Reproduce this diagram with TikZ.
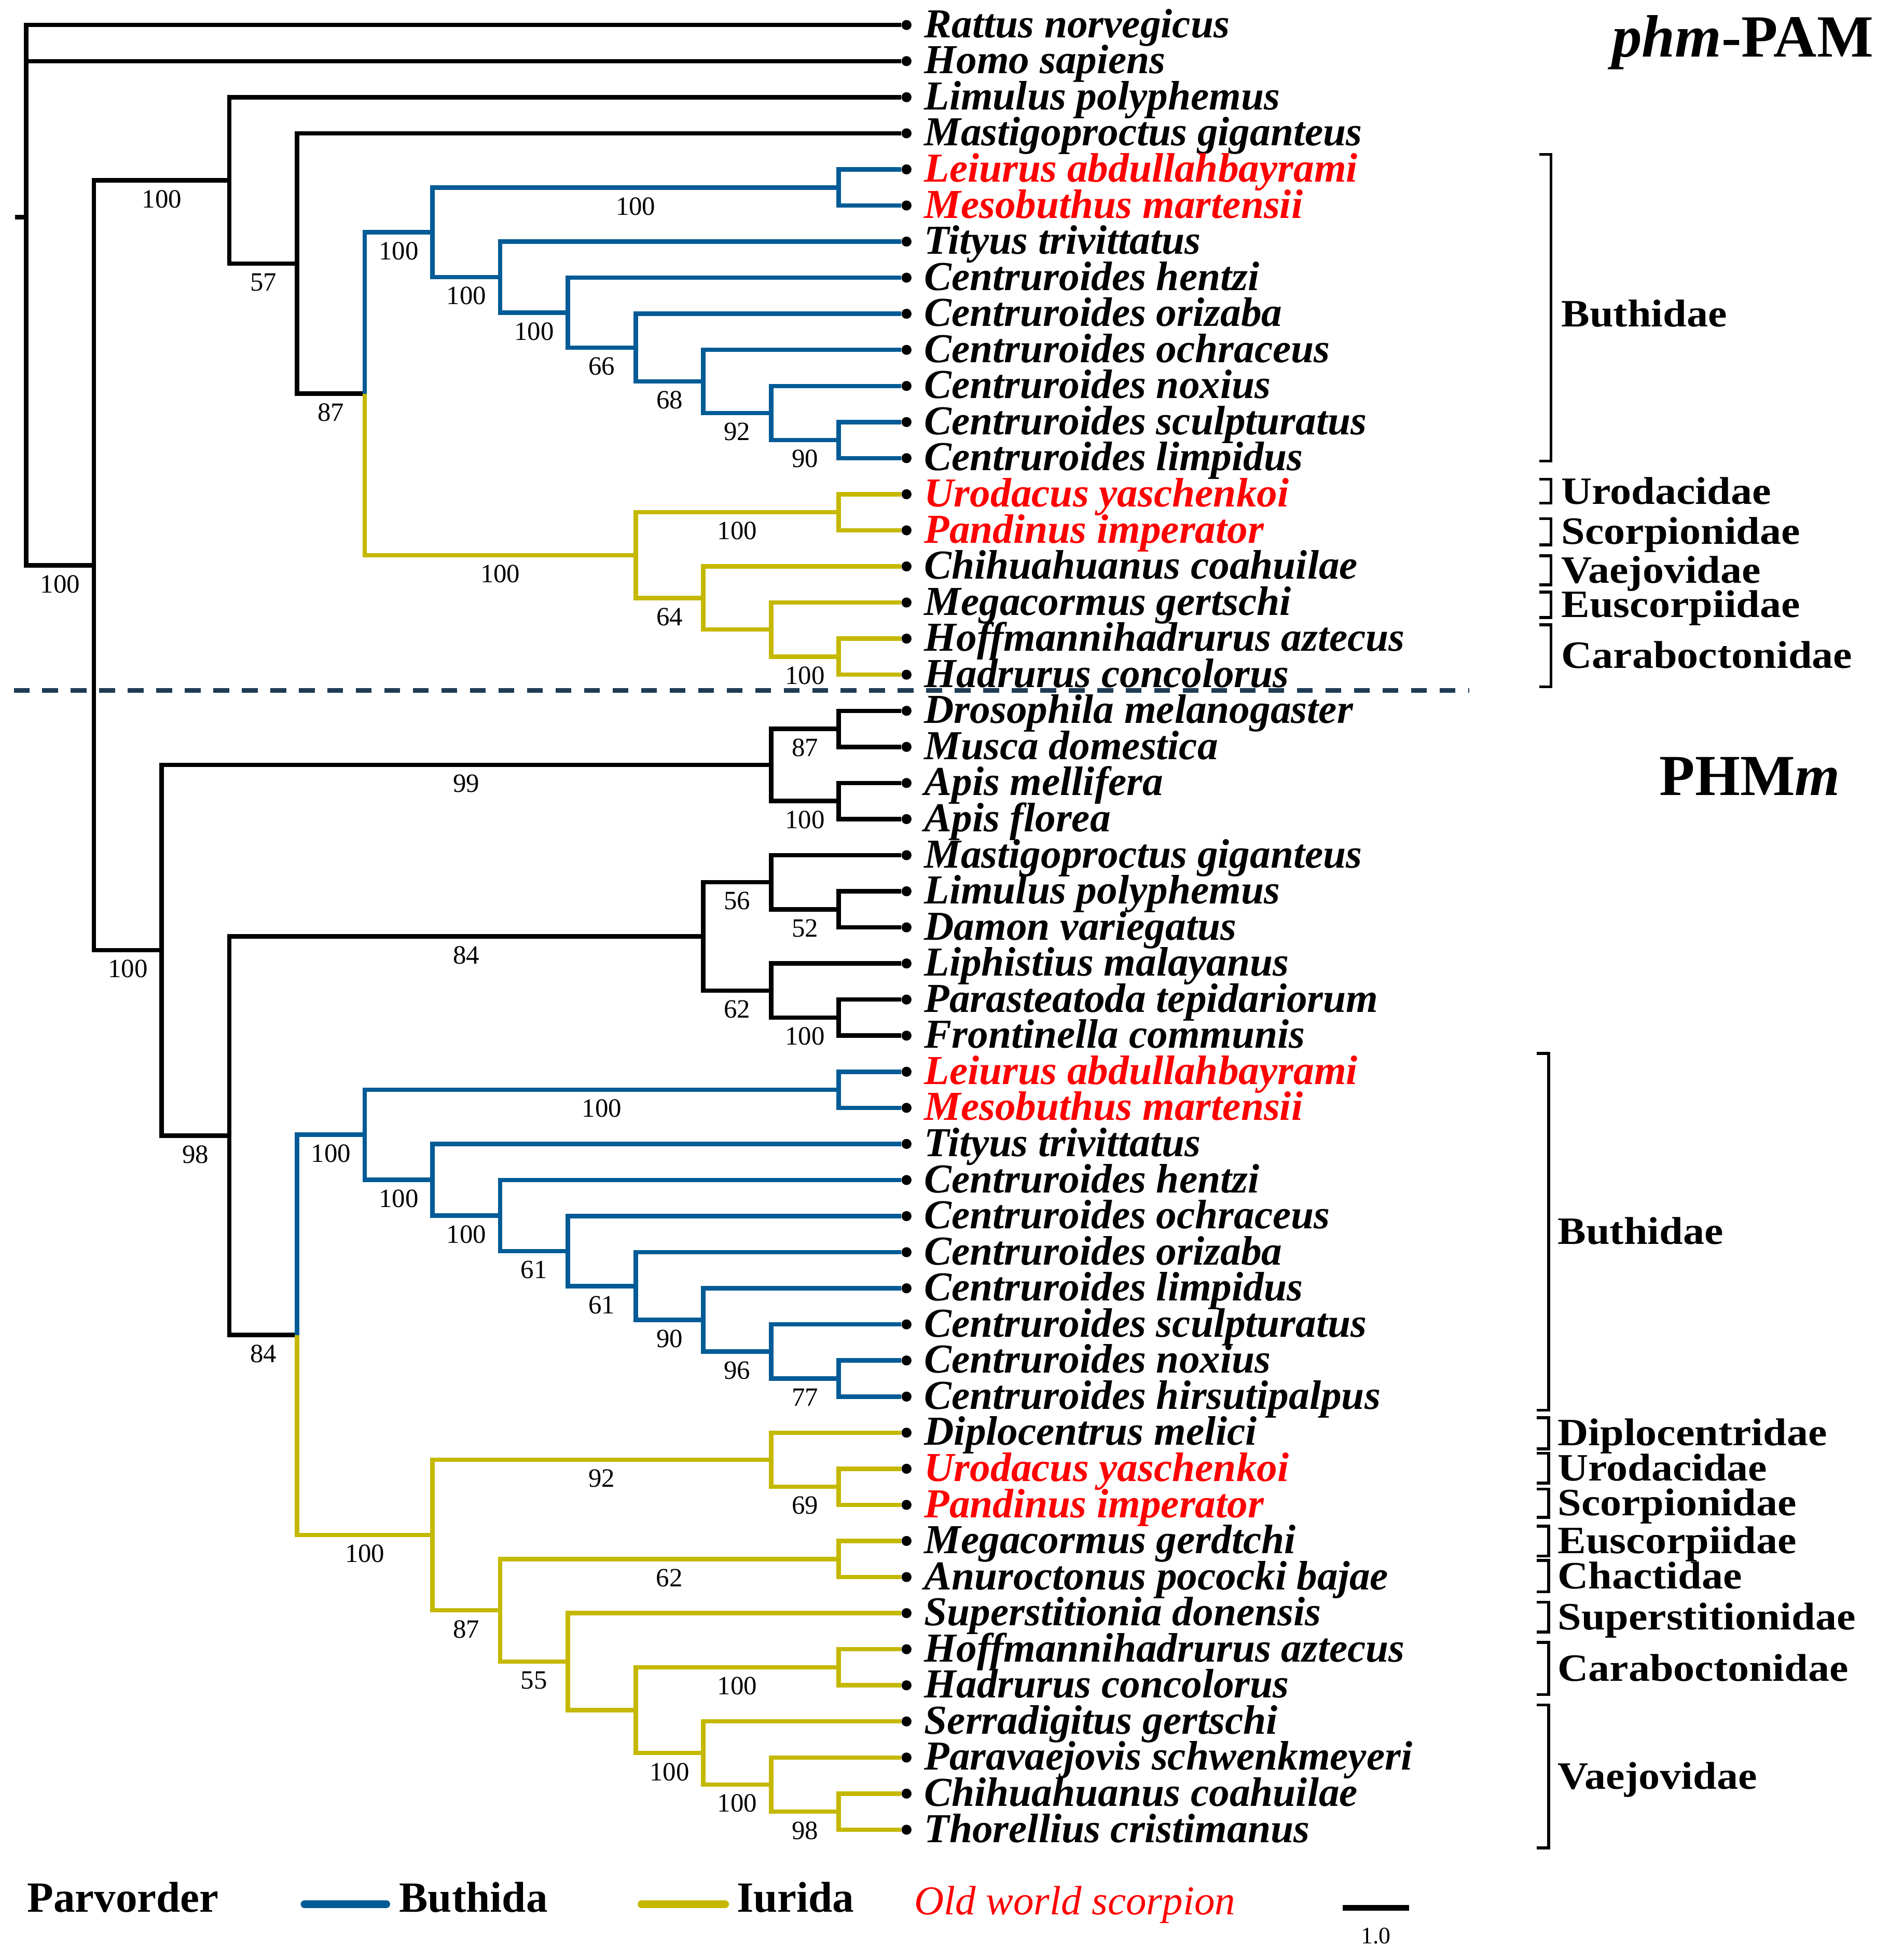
\documentclass[tikz,border=0pt]{standalone}
\usepackage{fontspec}
\newfontfamily\tnr{Liberation Serif}
\newfontfamily\famfont[FakeStretch=1.1]{Liberation Serif}
\definecolor{buth}{RGB}{0,91,150}
\definecolor{iur}{RGB}{196,184,0}
\definecolor{sep}{RGB}{30,60,85}

\begin{document}
\begin{tikzpicture}[x=0.025cm, y=-0.025cm,
    br/.style={line width=2.5pt},
    bs/.style={pos=.75, yshift=-0.375cm, text=black, font=\tnr\fontsize{15}{15}\selectfont},
    dot/.style={circle, fill=black, inner sep=0pt, minimum size=0.2cm},
    leaf/.style={anchor=base west, inner sep=0pt, font=\tnr\bfseries\itshape\fontsize{23.4}{24}\selectfont},
    fam/.style={anchor=base west, inner sep=0pt, font=\famfont\bfseries\fontsize{22}{22}\selectfont},
    brk/.style={line width=1.6pt},
    lg/.style={anchor=base west, inner sep=0pt, font=\tnr\bfseries\fontsize{24.5}{24}\selectfont}]
  \useasboundingbox (0,0) rectangle (1510.4,1567.2);

  \foreach \i/\sp/\col in {0/Rattus norvegicus/black, 1/Homo sapiens/black,
      2/Limulus polyphemus/black, 3/Mastigoproctus giganteus/black,
      4/Leiurus abdullahbayrami/red, 5/Mesobuthus martensii/red,
      6/Tityus trivittatus/black, 7/Centruroides hentzi/black,
      8/Centruroides orizaba/black, 9/Centruroides ochraceus/black,
      10/Centruroides noxius/black, 11/Centruroides sculpturatus/black,
      12/Centruroides limpidus/black, 13/Urodacus yaschenkoi/red,
      14/Pandinus imperator/red, 15/Chihuahuanus coahuilae/black,
      16/Megacormus gertschi/black, 17/Hoffmannihadrurus aztecus/black,
      18/Hadrurus concolorus/black, 19/Drosophila melanogaster/black,
      20/Musca domestica/black, 21/Apis mellifera/black,
      22/Apis florea/black, 23/Mastigoproctus giganteus/black,
      24/Limulus polyphemus/black, 25/Damon variegatus/black,
      26/Liphistius malayanus/black, 27/Parasteatoda tepidariorum/black,
      28/Frontinella communis/black, 29/Leiurus abdullahbayrami/red,
      30/Mesobuthus martensii/red, 31/Tityus trivittatus/black,
      32/Centruroides hentzi/black, 33/Centruroides ochraceus/black,
      34/Centruroides orizaba/black, 35/Centruroides limpidus/black,
      36/Centruroides sculpturatus/black, 37/Centruroides noxius/black,
      38/Centruroides hirsutipalpus/black, 39/Diplocentrus melici/black,
      40/Urodacus yaschenkoi/red, 41/Pandinus imperator/red,
      42/Megacormus gerdtchi/black, 43/Anuroctonus pococki bajae/black,
      44/Superstitionia donensis/black, 45/Hoffmannihadrurus aztecus/black,
      46/Hadrurus concolorus/black, 47/Serradigitus gertschi/black,
      48/Paravaejovis schwenkmeyeri/black, 49/Chihuahuanus coahuilae/black,
      50/Thorellius cristimanus/black}{
    \node[dot] (L\i) at (725,{20+28.86*\i}) {};
    \node[leaf, text=\col] (T\i) at (739,{30+28.86*\i}) {\sp};
  }

  \coordinate (stub) at (12,173.6);
  \coordinate (root) at (21,173.6);
  \coordinate (r1) at (75.2,452.0);
  \coordinate (up3) at (183.5,144.2);
  \coordinate (up2) at (237.6,210.7);
  \coordinate (up1) at (291.8,314.8);
  \coordinate (ub8) at (345.9,185.7);
  \coordinate (ub1) at (670.8,149.9);
  \coordinate (ub7) at (400,221.6);
  \coordinate (ub6) at (454.2,250.0);
  \coordinate (ub5) at (508.4,277.9);
  \coordinate (ub4) at (562.5,305.0);
  \coordinate (ub3) at (616.7,330.2);
  \coordinate (ub2) at (670.8,351.9);
  \coordinate (ui5) at (508.4,443.9);
  \coordinate (ui1) at (670.8,409.6);
  \coordinate (ui4) at (562.5,478.2);
  \coordinate (ui3) at (616.7,503.4);
  \coordinate (ui2) at (670.8,525.1);
  \coordinate (lo3) at (129.3,759.8);
  \coordinate (ins3) at (616.7,611.6);
  \coordinate (ins1) at (670.8,582.8);
  \coordinate (ins2) at (670.8,640.5);
  \coordinate (lo2) at (183.5,908.0);
  \coordinate (ara5) at (562.5,748.7);
  \coordinate (ara2) at (616.7,705.4);
  \coordinate (ara1) at (670.8,727.1);
  \coordinate (ara4) at (616.7,792.0);
  \coordinate (ara3) at (670.8,813.7);
  \coordinate (lo1) at (237.6,1067.4);
  \coordinate (lb9) at (291.8,907.3);
  \coordinate (lb1) at (670.8,871.4);
  \coordinate (lb8) at (345.9,943.3);
  \coordinate (lb7) at (400,971.9);
  \coordinate (lb6) at (454.2,1000.3);
  \coordinate (lb5) at (508.4,1028.3);
  \coordinate (lb4) at (562.5,1055.4);
  \coordinate (lb3) at (616.7,1080.6);
  \coordinate (lb2) at (670.8,1102.3);
  \coordinate (li11) at (345.9,1227.4);
  \coordinate (li2) at (616.7,1167.2);
  \coordinate (li1) at (670.8,1188.8);
  \coordinate (li10) at (400,1287.6);
  \coordinate (li3) at (670.8,1246.6);
  \coordinate (li9) at (454.2,1328.6);
  \coordinate (li8) at (508.4,1367.4);
  \coordinate (li4) at (670.8,1333.1);
  \coordinate (li7) at (562.5,1401.7);
  \coordinate (li6) at (616.7,1426.9);
  \coordinate (li5) at (670.8,1448.6);

  \draw[br] (stub) -- (root);
  \draw[br] (root) |- (L0) (root) |- (L1) (root) |- node[bs]{100} (r1);
  \draw[br] (r1) |- node[bs]{100} (up3) (r1) |- node[bs]{100} (lo3);
  \draw[br] (up3) |- (L2) (up3) |- node[bs]{57} (up2);
  \draw[br] (up2) |- (L3) (up2) |- node[bs]{87} (up1);
  \draw[br, buth] (up1) |- node[bs]{100} (ub8);
  \draw[br, buth] (ub8) |- node[bs]{100} (ub1) (ub8) |- node[bs]{100} (ub7);
  \draw[br, buth] (ub1) |- (L4) (ub1) |- (L5);
  \draw[br, buth] (ub7) |- (L6) (ub7) |- node[bs]{100} (ub6);
  \draw[br, buth] (ub6) |- (L7) (ub6) |- node[bs]{66} (ub5);
  \draw[br, buth] (ub5) |- (L8) (ub5) |- node[bs]{68} (ub4);
  \draw[br, buth] (ub4) |- (L9) (ub4) |- node[bs]{92} (ub3);
  \draw[br, buth] (ub3) |- (L10) (ub3) |- node[bs]{90} (ub2);
  \draw[br, buth] (ub2) |- (L11) (ub2) |- (L12);
  \draw[br, iur] (up1) |- node[bs]{100} (ui5);
  \draw[br, iur] (ui5) |- node[bs]{100} (ui1) (ui5) |- node[bs]{64} (ui4);
  \draw[br, iur] (ui1) |- (L13) (ui1) |- (L14);
  \draw[br, iur] (ui4) |- (L15) (ui4) |- (ui3);
  \draw[br, iur] (ui3) |- (L16) (ui3) |- node[bs]{100} (ui2);
  \draw[br, iur] (ui2) |- (L17) (ui2) |- (L18);
  \draw[br] (lo3) |- node[bs]{99} (ins3) (lo3) |- node[bs]{98} (lo2);
  \draw[br] (ins3) |- node[bs]{87} (ins1) (ins3) |- node[bs]{100} (ins2);
  \draw[br] (ins1) |- (L19) (ins1) |- (L20) (ins2) |- (L21) (ins2) |- (L22);
  \draw[br] (lo2) |- node[bs]{84} (ara5) (lo2) |- node[bs]{84} (lo1);
  \draw[br] (ara5) |- node[bs]{56} (ara2) (ara5) |- node[bs]{62} (ara4);
  \draw[br] (ara2) |- (L23) (ara2) |- node[bs]{52} (ara1);
  \draw[br] (ara1) |- (L24) (ara1) |- (L25);
  \draw[br] (ara4) |- (L26) (ara4) |- node[bs]{100} (ara3);
  \draw[br] (ara3) |- (L27) (ara3) |- (L28);
  \draw[br, buth] (lo1) |- node[bs]{100} (lb9);
  \draw[br, buth] (lb9) |- node[bs]{100} (lb1) (lb9) |- node[bs]{100} (lb8);
  \draw[br, buth] (lb1) |- (L29) (lb1) |- (L30);
  \draw[br, buth] (lb8) |- (L31) (lb8) |- node[bs]{100} (lb7);
  \draw[br, buth] (lb7) |- (L32) (lb7) |- node[bs]{61} (lb6);
  \draw[br, buth] (lb6) |- (L33) (lb6) |- node[bs]{61} (lb5);
  \draw[br, buth] (lb5) |- (L34) (lb5) |- node[bs]{90} (lb4);
  \draw[br, buth] (lb4) |- (L35) (lb4) |- node[bs]{96} (lb3);
  \draw[br, buth] (lb3) |- (L36) (lb3) |- node[bs]{77} (lb2);
  \draw[br, buth] (lb2) |- (L37) (lb2) |- (L38);
  \draw[br, iur] (lo1) |- node[bs]{100} (li11);
  \draw[br, iur] (li11) |- node[bs]{92} (li2) (li11) |- node[bs]{87} (li10);
  \draw[br, iur] (li2) |- (L39) (li2) |- node[bs]{69} (li1);
  \draw[br, iur] (li1) |- (L40) (li1) |- (L41);
  \draw[br, iur] (li10) |- node[bs]{62} (li3) (li10) |- node[bs]{55} (li9);
  \draw[br, iur] (li3) |- (L42) (li3) |- (L43);
  \draw[br, iur] (li9) |- (L44) (li9) |- (li8);
  \draw[br, iur] (li8) |- node[bs]{100} (li4) (li8) |- node[bs]{100} (li7);
  \draw[br, iur] (li4) |- (L45) (li4) |- (L46);
  \draw[br, iur] (li7) |- (L47) (li7) |- node[bs]{100} (li6);
  \draw[br, iur] (li6) |- (L48) (li6) |- node[bs]{98} (li5);
  \draw[br, iur] (li5) |- (L49) (li5) |- (L50);

  \draw[sep, line width=2.5pt, dash pattern=on 0.315cm off 0.255cm] (11,552) -- (1175,552);

  \foreach \ya/\yb/\yl/\fam [count=\n] in {123.5/368.7/261/Buthidae, 383.3/402.2/403/Urodacidae,
      414.8/435.7/435/Scorpionidae, 444.3/467.6/466/Vaejovidae, 473.4/493.8/493.6/Euscorpiidae,
      499.6/549.2/534.4/Caraboctonidae}{
    \draw[brk] (1231,\ya) -- (1240.5,\ya) -- (1240.5,\yb) -- (1231,\yb);
    \node[fam] (U\n) at (1248.5,\yl) {\fam};
  }
  \foreach \ya/\yb/\fam [count=\n] in {842.3/1127.6/Buthidae, 1133.5/1158.4/Diplocentridae,
      1162/1185.8/Urodacidae, 1190.6/1213.2/Scorpionidae, 1220.3/1244.2/Euscorpiidae,
      1247.7/1272.8/Chactidae, 1281.1/1304.9/Superstitionidae,
      1313.3/1354.9/Caraboctonidae, 1363.3/1477.6/Vaejovidae}{
    \draw[brk] (1229,\ya) -- (1238.6,\ya) -- (1238.6,\yb) -- (1229,\yb);
    \node[fam] (D\n) at (1245.5,{(\ya+\yb)/2+10}) {\fam};
  }

  \node[anchor=base west, inner sep=0pt, font=\tnr\bfseries\fontsize{34}{34}\selectfont] (pam) at (1289,45.6) {\textit{phm}-PAM};
  \node[anchor=base west, inner sep=0pt, font=\tnr\bfseries\fontsize{33}{33}\selectfont] (phmm) at (1327,636) {PHM\textit{m}};

  \node[lg] (parv) at (21.5,1529) {Parvorder};
  \draw[buth, line width=4.3pt, line cap=round] (243.5,1522.5) -- (309,1522.5);
  \node[lg] (bthl) at (319,1529) {Buthida};
  \draw[iur, line width=4.3pt, line cap=round] (513,1522.5) -- (580,1522.5);
  \node[lg] (iurl) at (589,1529) {Iurida};
  \node[anchor=base west, inner sep=0pt, text=red, font=\tnr\itshape\fontsize{23.3}{23}\selectfont] (ows) at (731,1531) {Old world scorpion};
  \draw[line width=3.2pt] (1074,1525.5) -- (1127,1525.5);
  \node[font=\tnr\fontsize{13.5}{14}\selectfont] (scl) at (1100.5,1548) {1.0};
\end{tikzpicture}
\end{document}
